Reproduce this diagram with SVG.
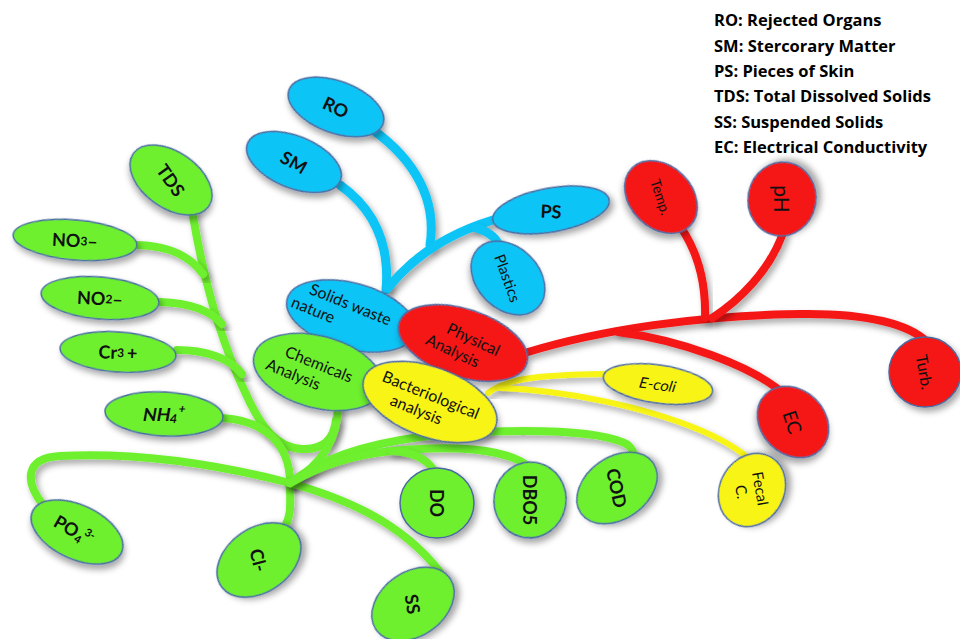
<svg xmlns="http://www.w3.org/2000/svg" width="960" height="639" viewBox="0 0 960 639">
<defs>
<filter id="sh" x="-30%" y="-30%" width="160%" height="160%">
<feDropShadow dx="3" dy="4" stdDeviation="3" flood-color="#000" flood-opacity="0.35"/>
</filter>
<style>
.n{stroke:#4a6aa0;stroke-width:1.5;filter:url(#sh)}
.g{fill:#6ef02f}.b{fill:#10c4f6}.r{fill:#f51515}.y{fill:#f8f514}
.c{fill:none;stroke-linecap:round;filter:url(#sh)}
.cg{stroke:#6ef02f;stroke-width:8}.cb{stroke:#10c4f6;stroke-width:9}.cr{stroke:#f51515;stroke-width:8}.cy{stroke:#f8f514;stroke-width:6}
text{font-family:Lato,"Open Sans","Liberation Sans",sans-serif;fill:#111}
.t{text-anchor:middle;dominant-baseline:central}
.lb{font-weight:bold;font-size:18px}
.lm{font-size:15px}
.mid{font-size:16px}
.leg{font-family:"Open Sans","Liberation Sans",sans-serif;font-weight:bold;font-size:16.5px;fill:#000}
</style>
</defs>
<rect width="960" height="639" fill="#fff"/>

<g id="connectors">
<!-- blue -->
<path class="c cb" d="M340,185 C375,210 390,245 386,290"/>
<path class="c cb" d="M373,130 C415,160 437,200 430,245"/>
<path class="c cb" d="M493,220 C460,230 420,248 388,288"/>
<path class="c cb" d="M476,228 C490,232 497,238 500,248"/>
<!-- red -->
<path class="c cr" d="M528,352 C600,330 700,315 800,314 C870,313 910,325 927,342"/>
<path class="c cr" d="M680,226 C700,255 706,285 705,318"/>
<path class="c cr" d="M783,233 C770,270 740,300 712,318"/>
<path class="c cr" d="M618,332 C680,340 750,365 783,393"/>
<!-- yellow -->
<path class="c cy" d="M488,393 C505,380 530,375 604,374"/>
<path class="c cy" d="M500,388 C560,390 640,405 700,430 C735,445 750,458 758,468"/>
<!-- green -->
<path class="c cg" d="M192,210 C205,290 225,350 245,392 C262,430 278,448 302,449 C322,450 334,440 336,420"/>
<path class="c cg" d="M137,245 C170,246 190,256 203,274"/>
<path class="c cg" d="M160,302 C190,303 210,310 222,324"/>
<path class="c cg" d="M177,350 C205,350 230,358 242,374"/>
<path class="c cg" d="M338,405 C338,440 322,465 290,483"/>
<path class="c cg" d="M222,418 C262,420 290,442 290,483 C290,505 292,515 284,528"/>
<path class="c cg" d="M43,505 C25,482 24,458 60,456 C140,452 220,465 290,483 C340,497 400,520 440,572"/>
<path class="c cg" d="M290,483 C320,460 360,445 420,437 C500,428 600,428 628,445 C634,450 634,455 634,458"/>
<path class="c cg" d="M290,483 C320,466 350,455 392,451 C450,445 505,448 528,466"/>
<path class="c cg" d="M392,451 C412,452 426,459 433,469"/>
</g>

<!-- legend -->
<g id="legend">
<text class="leg" x="714" y="26">RO: Rejected Organs</text>
<text class="leg" x="714" y="51.5">SM: Stercorary Matter</text>
<text class="leg" x="714" y="77">PS: Pieces of Skin</text>
<text class="leg" x="714" y="102">TDS: Total Dissolved Solids</text>
<text class="leg" x="714" y="127.5">SS: Suspended Solids</text>
<text class="leg" x="714" y="153">EC: Electrical Conductivity</text>
</g>

<!-- blue nodes -->
<g id="RO"><ellipse class="n b" cx="336" cy="107" rx="50" ry="26" transform="rotate(20 336 107)"/><text class="t lb" transform="translate(336 107) rotate(25)">RO</text></g>
<g id="SM"><ellipse class="n b" cx="294" cy="162" rx="50" ry="26" transform="rotate(22 294 162)"/><text class="t lb" transform="translate(294 162) rotate(30)">SM</text></g>
<g id="PS"><ellipse class="n b" cx="551" cy="210" rx="59" ry="22" transform="rotate(-10 551 210)"/><text class="t lb" transform="translate(551 211) rotate(3)">PS</text></g>
<g id="Plastics"><ellipse class="n b" cx="508" cy="278" rx="42" ry="31" transform="rotate(45 508 278)"/><text class="t lm" transform="translate(508 278) rotate(70)">Plastics</text></g>

<!-- red leaf nodes -->
<g id="Temp"><ellipse class="n r" cx="661" cy="197" rx="41" ry="31" transform="rotate(45 661 197)"/><text class="t" font-size="14" transform="translate(661 197) rotate(72)">Temp.</text></g>
<g id="pH"><ellipse class="n r" cx="782" cy="199" rx="37" ry="34" transform="rotate(-80 782 199)"/><text class="t" font-size="21" transform="translate(782 199) rotate(90)">pH</text></g>
<g id="Turb"><ellipse class="n r" cx="925" cy="372" rx="36" ry="35"/><text class="t" font-size="16" transform="translate(925 372) rotate(80)">Turb.</text></g>
<g id="EC"><ellipse class="n r" cx="793" cy="422" rx="39" ry="32" transform="rotate(45 793 422)"/><text class="t" font-size="19" transform="translate(793 422) rotate(72)">EC</text></g>

<!-- yellow leaf nodes -->
<g id="Ecoli"><ellipse class="n y" cx="658" cy="384" rx="55" ry="19" transform="rotate(8 658 384)"/><text class="t" font-size="15" transform="translate(658 384) rotate(8) skewX(-10)">E-coli</text></g>
<g id="Fecal"><ellipse class="n y" cx="752" cy="490" rx="38" ry="32" transform="rotate(-60 752 490)"/><text class="t" font-size="15" transform="translate(752 490) rotate(80)"><tspan x="0" y="-9">Fecal</tspan><tspan x="0" y="10">C.</tspan></text></g>

<!-- green leaf nodes -->
<g id="TDS"><ellipse class="n g" cx="171" cy="180" rx="46" ry="28" transform="rotate(35 171 180)"/><text class="t lb" transform="translate(171 180) rotate(55)">TDS</text></g>
<g id="NO3"><ellipse class="n g" cx="75" cy="240" rx="62" ry="20" transform="rotate(5 75 240)"/><text class="t lb" font-size="17" transform="translate(75 240) rotate(3)">NO<tspan font-size="12">3</tspan>–</text></g>
<g id="NO2"><ellipse class="n g" cx="100" cy="298" rx="59" ry="21" transform="rotate(5 100 298)"/><text class="t lb" font-size="17" transform="translate(100 298) rotate(3)">NO<tspan font-size="12">2</tspan>–</text></g>
<g id="Cr3"><ellipse class="n g" cx="118" cy="352" rx="58" ry="20" transform="rotate(4 118 352)"/><text class="t lb" font-size="17" transform="translate(118 352) rotate(2)">Cr<tspan font-size="12">3 </tspan>+</text></g>
<g id="NH4"><ellipse class="n g" cx="164" cy="414" rx="59" ry="22" transform="rotate(3 164 414)"/><text class="t lb" font-size="17" transform="translate(164 414) skewX(-10)">NH<tspan font-size="12" dy="4">4</tspan><tspan font-size="12" dy="-10">+</tspan></text></g>
<g id="PO4"><ellipse class="n g" cx="77" cy="532" rx="49" ry="27" transform="rotate(25 77 532)"/><text class="t lb" font-size="17" transform="translate(74 530) rotate(30)">PO<tspan font-size="11" dy="5">4</tspan><tspan font-size="11" dx="-3" dy="-11"> 3-</tspan></text></g>
<g id="Cl"><ellipse class="n g" cx="259" cy="560" rx="46" ry="32" transform="rotate(-35 259 560)"/><text class="t lb" font-size="19" transform="translate(259 560) rotate(75)">Cl-</text></g>
<g id="SS"><ellipse class="n g" cx="413" cy="604" rx="45" ry="32" transform="rotate(-35 413 604)"/><text class="t lb" font-size="19" transform="translate(413 604) rotate(80)">SS</text></g>
<g id="DO"><ellipse class="n g" cx="437" cy="503" rx="37" ry="35"/><text class="t lb" font-size="20" transform="translate(437 503) rotate(90)">DO</text></g>
<g id="DBO5"><ellipse class="n g" cx="530" cy="500" rx="36" ry="38" transform="rotate(10 530 500)"/><text class="t lb" font-size="17" transform="translate(530 500) rotate(90)">DBO5</text></g>
<g id="COD"><ellipse class="n g" cx="617" cy="488" rx="44" ry="31" transform="rotate(-35 617 488)"/><text class="t lb" font-size="19" transform="translate(617 488) rotate(78)">COD</text></g>

<!-- central nodes -->
<g id="Solids"><ellipse class="n b" cx="351" cy="316" rx="66" ry="33" transform="rotate(15 351 316)"/><text class="mid" transform="translate(351 316) rotate(22)"><tspan x="-48" y="-5">Solids waste</tspan><tspan x="-60" y="14">nature</tspan></text></g>
<g id="Physical"><ellipse class="n r" cx="463" cy="343" rx="67" ry="34" transform="rotate(18 463 343)"/><text class="t mid" transform="translate(463 343) rotate(25)"><tspan x="8" y="-9">Physical</tspan><tspan x="-6" y="10">Analysis</tspan></text></g>
<g id="Chemicals"><ellipse class="n g" cx="318" cy="372" rx="66" ry="36" transform="rotate(15 318 372)"/><text class="t mid" transform="translate(318 372) rotate(22)"><tspan x="-2" y="-9">Chemicals</tspan><tspan x="-22" y="10">Analysis</tspan></text></g>
<g id="Bacteriological"><ellipse class="n y" cx="430" cy="402" rx="70" ry="35" transform="rotate(20 430 402)"/><text class="t mid" transform="translate(428 402) rotate(22)"><tspan x="0" y="-9">Bacteriological</tspan><tspan x="-8" y="10">analysis</tspan></text></g>
</svg>
